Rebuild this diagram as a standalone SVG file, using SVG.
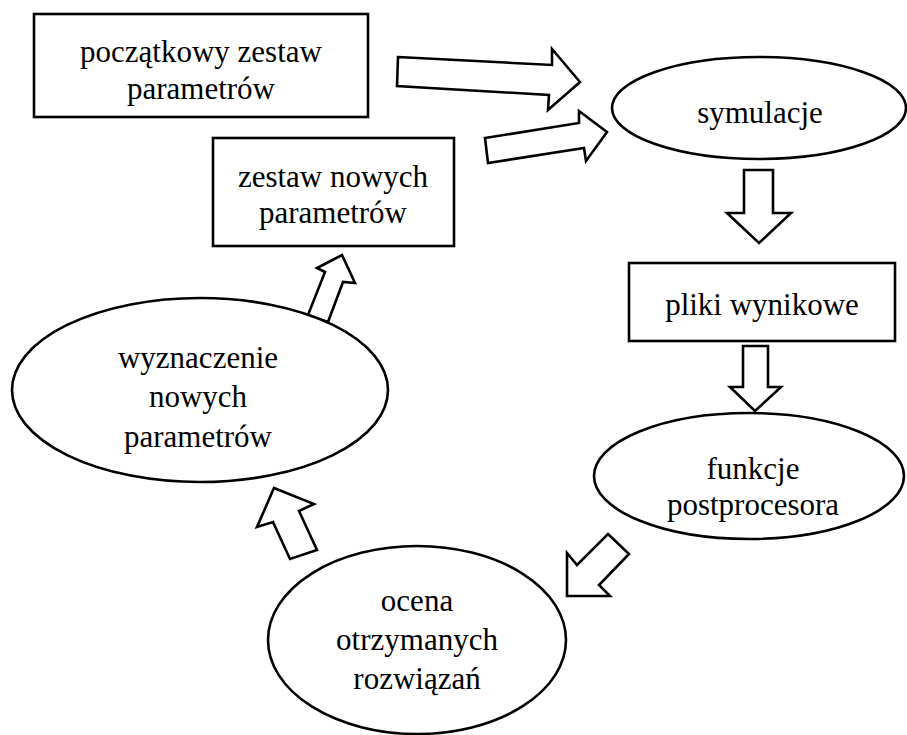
<svg xmlns="http://www.w3.org/2000/svg" width="907" height="735" viewBox="0 0 907 735">
<style>
.n{fill:#fff;stroke:#000;stroke-width:2.6}
.a{fill:#fff;stroke:#000;stroke-width:2.6;stroke-linejoin:miter}
.t{font-family:'Liberation Serif','Times New Roman',Times,serif;font-size:31px;fill:#000;text-anchor:middle}
</style>
<rect width="907" height="735" fill="#fff"/>
<g id="connectors">
<polygon class="a" points="398,57 552,65 552,49 580,82 548,110 549,95 397,86"/>
<polygon class="a" points="485,138 579,123 579,111 607,132 586,161 584,148 488,163"/>
<polygon class="a" points="744,170 773,170 773,213 791,213 759,243 727,213 744,213"/>
<polygon class="a" points="743,346 768,346 768,387 781,387 755,411 730,387 743,387"/>
<polygon class="a" points="608,534 629,554 599,585 610,596 567,596 567,553 577,565"/>
<polygon class="a" points="274,488 314,504 299,511 317,550 290,559 273,522 257,527"/>
<polygon class="a" points="342,255 355,283 343,282 328,322 308,315 325,272 317,268"/>
</g>
<g class="t">
<g id="n1"><rect class="n" x="34" y="14" width="334" height="103"/><text x="201" y="62">początkowy zestaw</text><text x="201" y="99">parametrów</text></g>
<g id="n2"><ellipse class="n" cx="759" cy="108" rx="147" ry="51"/><text x="760" y="123">symulacje</text></g>
<g id="n3"><rect class="n" x="213" y="138" width="241" height="108"/><text x="333" y="187">zestaw nowych</text><text x="333" y="223">parametrów</text></g>
<g id="n4"><rect class="n" x="629" y="263" width="266" height="78"/><text x="762" y="315">pliki wynikowe</text></g>
<g id="n5"><ellipse class="n" cx="200" cy="390" rx="188" ry="92"/><text x="198" y="368">wyznaczenie</text><text x="198" y="407">nowych</text><text x="198" y="447">parametrów</text></g>
<g id="n6"><ellipse class="n" cx="749" cy="476" rx="155" ry="63"/><text x="753" y="479">funkcje</text><text x="753" y="515">postprocesora</text></g>
<g id="n7"><ellipse class="n" cx="417" cy="640" rx="149" ry="94"/><text x="417" y="611">ocena</text><text x="417" y="650">otrzymanych</text><text x="417" y="689">rozwiązań</text></g>
</g>
</svg>
